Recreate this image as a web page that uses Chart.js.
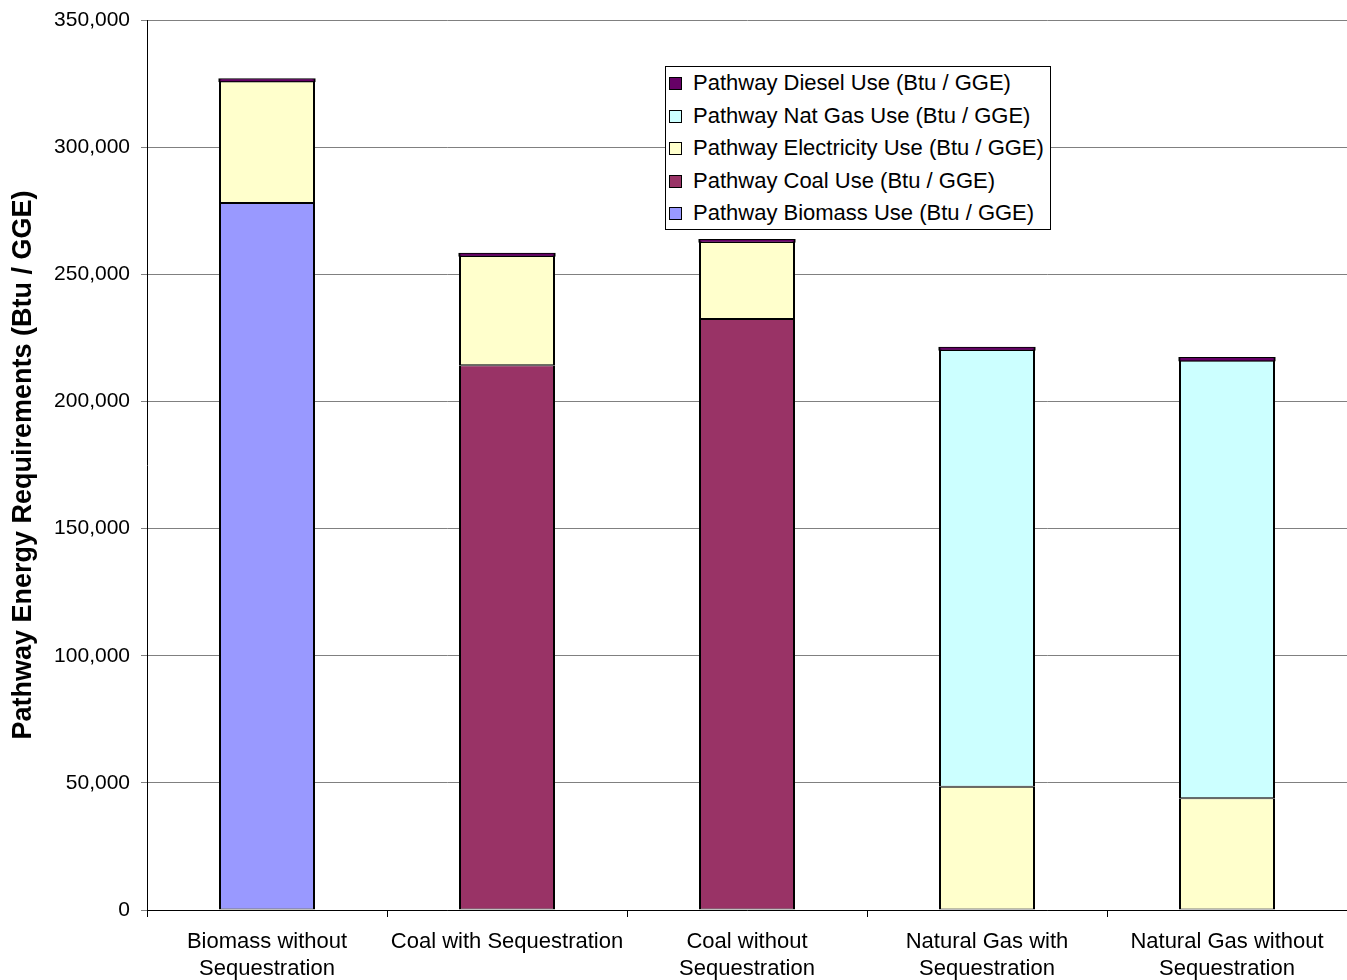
<!DOCTYPE html>
<html>
<head>
<meta charset="utf-8">
<script src="https://cdn.jsdelivr.net/npm/chart.js@4/dist/chart.umd.min.js"></script>
<style>
	body { margin: 0; background: #fff; }
	#wrap { position: relative; width: 1347px; height: 980px; }
	#legend {
		position: absolute; left: 665px; top: 66px; width: 384px; height: 162px;
		border: 1px solid #000; background: #fff;
		font-family: "Liberation Sans", Arial, sans-serif; font-size: 22px; color: #000;
	}
	#legend .row { position: absolute; left: 3px; height: 26px; line-height: 26px; white-space: nowrap; }
	#legend .sw { display: inline-block; width: 11px; height: 11px; border: 1px solid #000; margin-right: 11px; vertical-align: 0px; }
</style>
</head>
<body>
<div id="wrap">
	<canvas id="chart" width="1347" height="980"></canvas>
	<div id="legend"></div>
</div>
<script>
const categories = [
	['Biomass without', 'Sequestration'],
	'Coal with Sequestration',
	['Coal without', 'Sequestration'],
	['Natural Gas with', 'Sequestration'],
	['Natural Gas without', 'Sequestration']
];
const biomassUse = [278000, 0, 0, 0, 0];
const coalUse = [0, 214200, 232400, 0, 0];
const electricityUse = [47800, 43000, 30300, 48500, 43900];
const natGasUse = [0, 0, 0, 171700, 172100];
const dieselUse = [1000, 1000, 900, 1000, 1200];
const yTicks = [0, 50000, 100000, 150000, 200000, 250000, 300000, 350000];

const font = "'Liberation Sans', Arial, sans-serif";

const datasets = [
	{ label: 'Pathway Biomass Use (Btu / GGE)', data: biomassUse, backgroundColor: '#9999FF' },
	{ label: 'Pathway Coal Use (Btu / GGE)', data: coalUse, backgroundColor: '#993366' },
	{ label: 'Pathway Electricity Use (Btu / GGE)', data: electricityUse, backgroundColor: '#FFFFCC' },
	{ label: 'Pathway Nat Gas Use (Btu / GGE)', data: natGasUse, backgroundColor: '#CCFFFF' },
	{ label: 'Pathway Diesel Use (Btu / GGE)', data: dieselUse, backgroundColor: '#660066', inflateAmount: 0.7 }
].map(d => Object.assign({
	borderColor: '#000',
	borderWidth: ctx => ctx.raw ? { top: 1, bottom: 1, left: 2, right: 2 } : 0,
	borderSkipped: false,
	barPercentage: 0.4,
	categoryPercentage: 1
}, d));

new Chart(document.getElementById('chart'), {
	type: 'bar',
	data: { labels: categories, datasets: datasets },
	options: {
		responsive: false,
		animation: false,
		devicePixelRatio: 1,
		layout: { padding: { top: 20, right: 0, left: 0, bottom: 0 } },
		plugins: { legend: { display: false }, tooltip: { enabled: false } },
		scales: {
			x: {
				stacked: true,
				grid: { offset: true, drawOnChartArea: false, color: '#000', tickLength: 7 },
				border: { color: '#000', width: 1 },
				ticks: { color: '#000', font: { family: font, size: 22, lineHeight: 1.2 }, padding: 12, maxRotation: 0, autoSkip: false },
				afterFit: s => { s.height = 70; }
			},
			y: {
				stacked: true,
				min: 0,
				max: 350000,
				afterBuildTicks: s => { s.ticks = yTicks.map(v => ({ value: v })); },
				grid: { color: '#808080', tickLength: 6, lineWidth: 1 },
				border: { color: '#000', width: 1 },
				ticks: {
					color: '#000', font: { family: font, size: 21 }, padding: 11,
					callback: v => v.toLocaleString('en-US')
				},
				title: {
					display: true, text: 'Pathway Energy Requirements (Btu / GGE)', color: '#000',
					font: { family: font, size: 27, weight: 'bold' }, padding: { top: 7, bottom: 0 }
				},
				afterFit: s => {
					s.width = 147;
					s.paddingTop = 0;
					s.paddingBottom = 0;
				}
			}
		}
	}
});

// legend box (Excel style, reversed order)
const legend = document.getElementById('legend');
datasets.slice().reverse().forEach((d, i) => {
	const row = document.createElement('div');
	row.className = 'row';
	row.style.top = (3 + i * 32.6) + 'px';
	row.innerHTML = '<span class="sw" style="background:' + d.backgroundColor + '"></span>' + d.label;
	legend.appendChild(row);
});
</script>
</body>
</html>
